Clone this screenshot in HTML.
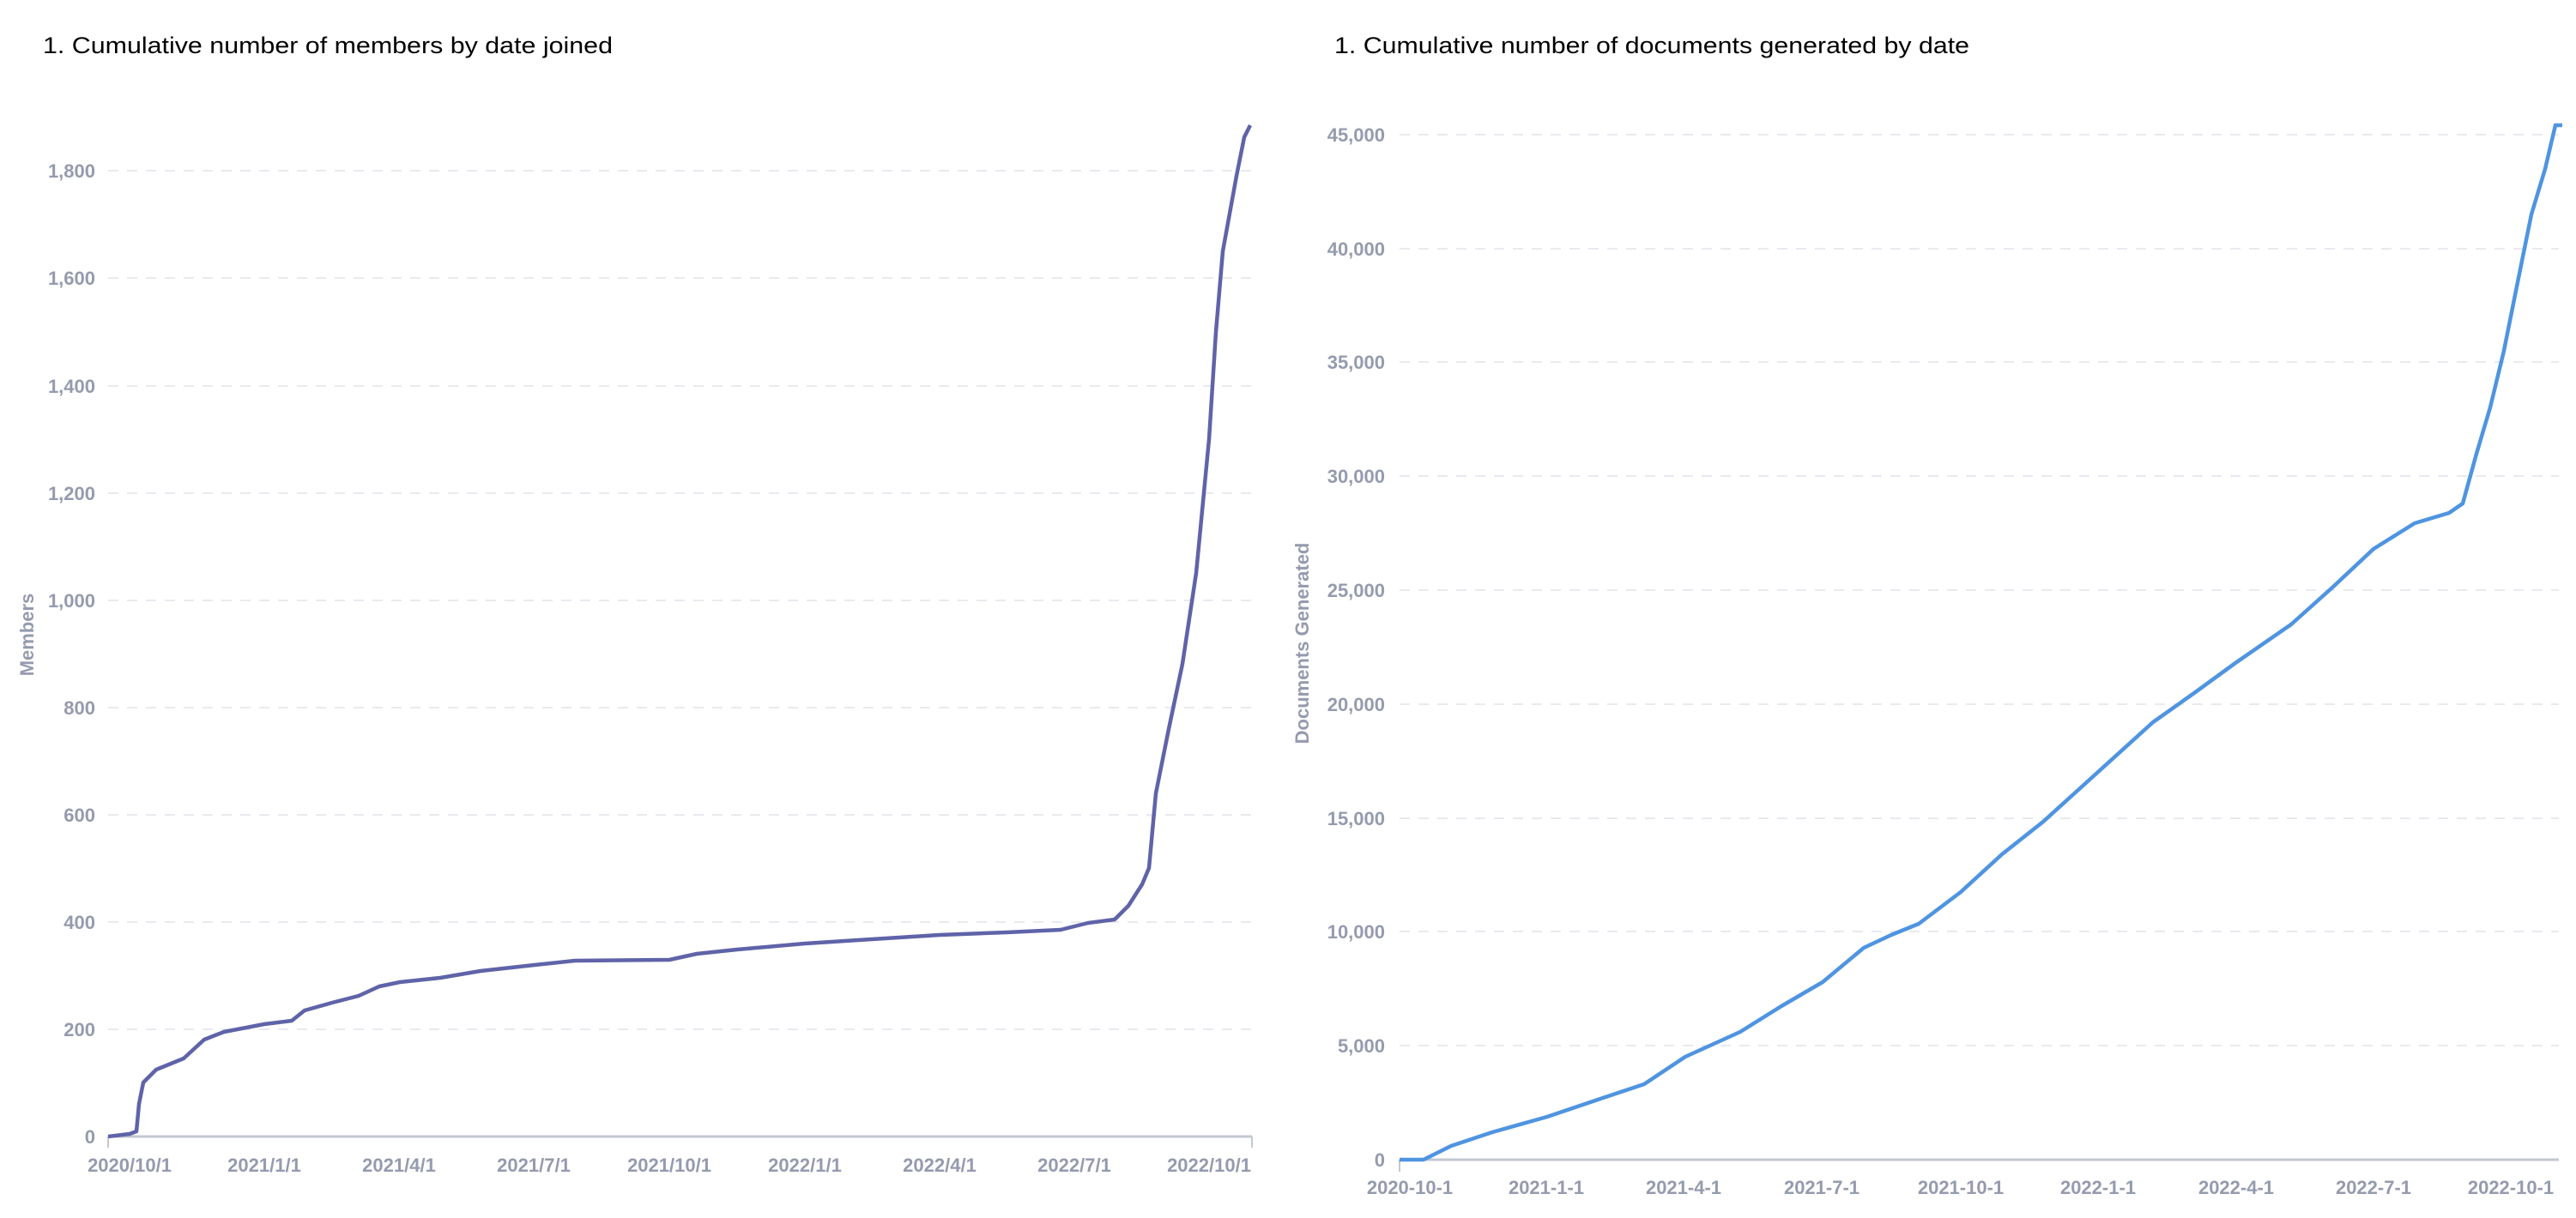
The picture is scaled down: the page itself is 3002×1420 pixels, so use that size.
<!DOCTYPE html>
<html><head><meta charset="utf-8"><style>
html,body{margin:0;padding:0;background:#fff;}
svg{display:block;}
.t{font-family:"Liberation Sans",sans-serif;font-size:27px;fill:#000;}
.ax{font-family:"Liberation Sans",sans-serif;font-size:22px;font-weight:bold;fill:#959bae;}
.g{stroke:#e8eaef;stroke-width:2;stroke-dasharray:12 10;}
</style></head><body>
<svg width="3002" height="1420" viewBox="0 0 3002 1420" xmlns="http://www.w3.org/2000/svg">
<text class="t" x="50" y="62" textLength="664" lengthAdjust="spacingAndGlyphs">1. Cumulative number of members by date joined</text>
<text class="t" x="1555" y="62" textLength="740" lengthAdjust="spacingAndGlyphs">1. Cumulative number of documents generated by date</text>

<!-- LEFT CHART -->
<g class="g">
<line x1="126" y1="1200" x2="1459" y2="1200"/><line x1="126" y1="1075" x2="1459" y2="1075"/>
<line x1="126" y1="950" x2="1459" y2="950"/><line x1="126" y1="825" x2="1459" y2="825"/>
<line x1="126" y1="700" x2="1459" y2="700"/><line x1="126" y1="575" x2="1459" y2="575"/>
<line x1="126" y1="450" x2="1459" y2="450"/><line x1="126" y1="324" x2="1459" y2="324"/>
<line x1="126" y1="199" x2="1459" y2="199"/>
</g>
<line x1="126" y1="1325" x2="1459" y2="1325" stroke="#c3c7d2" stroke-width="3"/>
<line x1="126" y1="1325" x2="126" y2="1338" stroke="#c3c7d2" stroke-width="2"/>
<line x1="1459" y1="1325" x2="1459" y2="1338" stroke="#c3c7d2" stroke-width="2"/>
<g class="ax" text-anchor="end">
<text x="111" y="1333">0</text><text x="111" y="1208">200</text><text x="111" y="1083">400</text>
<text x="111" y="958">600</text><text x="111" y="833">800</text><text x="111" y="708">1,000</text>
<text x="111" y="583">1,200</text><text x="111" y="458">1,400</text><text x="111" y="332">1,600</text>
<text x="111" y="207">1,800</text>
</g>
<g class="ax" text-anchor="middle">
<text x="151" y="1366">2020/10/1</text><text x="308" y="1366">2021/1/1</text><text x="465" y="1366">2021/4/1</text>
<text x="622" y="1366">2021/7/1</text><text x="780" y="1366">2021/10/1</text><text x="938" y="1366">2022/1/1</text>
<text x="1095" y="1366">2022/4/1</text><text x="1252" y="1366">2022/7/1</text><text x="1409" y="1366">2022/10/1</text>
</g>
<text class="ax" transform="translate(39,740) rotate(-90)" text-anchor="middle">Members</text>
<polyline fill="none" stroke="#5f63a8" stroke-width="4.5" stroke-linejoin="round" points="126,1325 151,1322 159,1319 162,1287 167,1262 182,1247 214,1234 238,1212 261,1203 308,1194 340,1190 355,1178 387,1169 418,1161 442,1150 466,1145 513,1140 560,1132 623,1125 670,1120 780,1119 812,1112 859,1107 938,1100 1016,1095 1095,1090 1173,1087 1236,1084 1268,1076 1299,1072 1315,1056 1331,1031 1339,1012 1347,925 1362,850 1378,774 1394,668 1409,512 1417,387 1425,293 1441,205 1450,160 1457,146"/>

<!-- RIGHT CHART -->
<g class="g">
<line x1="1631" y1="1219" x2="2982" y2="1219"/><line x1="1631" y1="1086" x2="2982" y2="1086"/>
<line x1="1631" y1="954" x2="2982" y2="954"/><line x1="1631" y1="821" x2="2982" y2="821"/>
<line x1="1631" y1="688" x2="2982" y2="688"/><line x1="1631" y1="555" x2="2982" y2="555"/>
<line x1="1631" y1="422" x2="2982" y2="422"/><line x1="1631" y1="290" x2="2982" y2="290"/>
<line x1="1631" y1="157" x2="2982" y2="157"/>
</g>
<line x1="1631" y1="1352" x2="2982" y2="1352" stroke="#c3c7d2" stroke-width="3"/>
<line x1="1631" y1="1352" x2="1631" y2="1366" stroke="#c3c7d2" stroke-width="2"/>
<g class="ax" text-anchor="end">
<text x="1614" y="1360">0</text><text x="1614" y="1227">5,000</text><text x="1614" y="1094">10,000</text>
<text x="1614" y="962">15,000</text><text x="1614" y="829">20,000</text><text x="1614" y="696">25,000</text>
<text x="1614" y="563">30,000</text><text x="1614" y="430">35,000</text><text x="1614" y="298">40,000</text>
<text x="1614" y="165">45,000</text>
</g>
<g class="ax" text-anchor="middle">
<text x="1643" y="1392">2020-10-1</text><text x="1802" y="1392">2021-1-1</text><text x="1962" y="1392">2021-4-1</text>
<text x="2123" y="1392">2021-7-1</text><text x="2285" y="1392">2021-10-1</text><text x="2445" y="1392">2022-1-1</text>
<text x="2606" y="1392">2022-4-1</text><text x="2766" y="1392">2022-7-1</text><text x="2926" y="1392">2022-10-1</text>
</g>
<text class="ax" transform="translate(1525,750) rotate(-90)" text-anchor="middle">Documents Generated</text>
<polyline fill="none" stroke="#4f94e0" stroke-width="4.5" stroke-linejoin="round" points="1631,1352 1659,1352 1691,1336 1739,1320 1803,1302 1868,1280 1916,1264 1964,1232 2028,1203 2076,1173 2124,1145 2172,1105 2204,1090 2236,1077 2285,1040 2333,996 2381,958 2445,900 2509,842 2557,808 2605,773 2670,728 2718,685 2766,640 2814,610 2854,598 2870,587 2886,529 2902,475 2918,409 2934,329 2950,250 2966,197 2978,146 2986,146"/>
</svg>
</body></html>
